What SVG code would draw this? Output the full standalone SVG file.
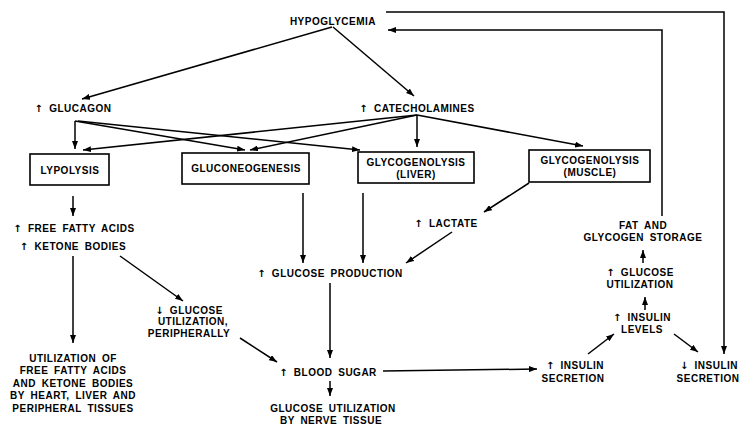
<svg xmlns="http://www.w3.org/2000/svg" width="742" height="426" viewBox="0 0 742 426">
<style>
text{font-family:"Liberation Sans",Arial,sans-serif;font-weight:bold;font-size:10px;letter-spacing:0.5px;word-spacing:2.5px;fill:#000;text-anchor:middle}
.ar{font-family:"DejaVu Sans",sans-serif;font-weight:bold;font-size:10px;fill:#000}
.box{fill:#fff;stroke:#000;stroke-width:1.6}
.c path{fill:none;stroke:#000;stroke-width:1.5}
.a{marker-end:url(#ah)}
</style>
<defs>
<marker id="ah" markerUnits="userSpaceOnUse" markerWidth="8" markerHeight="6" refX="8" refY="3" orient="auto"><path d="M0,0 L8,3 L0,6 z" fill="#000"/></marker>
</defs>
<rect width="742" height="426" fill="#fff"/>
<g class="c" id="connectors">
<path class="a" d="M332,27 L82,99"/>
<path class="a" d="M333,27 L414,96"/>
<path class="a" d="M386,12 H724 V354"/>
<path class="a" d="M662,216 V30 H388"/>
<path class="a" d="M75,121 V149"/>
<path class="a" d="M75,121 L245,150"/>
<path class="a" d="M78,121 L360,150"/>
<path class="a" d="M417,115 L83,150"/>
<path class="a" d="M417,115 L250,150"/>
<path class="a" d="M417,115 V147"/>
<path class="a" d="M417,115 L583,146"/>
<path class="a" d="M73,196 V216"/>
<path class="a" d="M73,256 V343"/>
<path class="a" d="M120,256 L183,301"/>
<path class="a" d="M240,338 L277,362"/>
<path class="a" d="M303,193 V263"/>
<path class="a" d="M363,193 V263"/>
<path class="a" d="M529,183 L484,212"/>
<path class="a" d="M452,232 L406,263"/>
<path class="a" d="M330,283 V358"/>
<path class="a" d="M330,381 V396"/>
<path class="a" d="M383,371 L537,369"/>
<path class="a" d="M588,354 L614,334"/>
<path class="a" d="M674,334 L698,352"/>
<path class="a" d="M645,310 V297"/>
<path class="a" d="M643,263 V250"/>
</g>
<g id="hypoglycemia"><text x="333" y="25">HYPOGLYCEMIA</text></g>
<g id="glucagon"><text x="73" y="112"><tspan class="ar">↑</tspan> GLUCAGON</text></g>
<g id="catecholamines"><text x="417" y="112"><tspan class="ar">↑</tspan> CATECHOLAMINES</text></g>
<g id="lypolysis"><rect class="box" x="30" y="154" width="79" height="31"/><text x="70" y="174">LYPOLYSIS</text></g>
<g id="gluconeogenesis"><rect class="box" x="182" y="153" width="127" height="31"/><text x="246" y="172">GLUCONEOGENESIS</text></g>
<g id="glycogenolysis-liver"><rect class="box" x="358" y="152" width="116" height="31"/><text x="416" y="166">GLYCOGENOLYSIS</text><text x="416" y="178">(LIVER)</text></g>
<g id="glycogenolysis-muscle"><rect class="box" x="529" y="150" width="121" height="32"/><text x="590" y="164">GLYCOGENOLYSIS</text><text x="590" y="176">(MUSCLE)</text></g>
<g id="ffa"><text x="74" y="232"><tspan class="ar">↑</tspan> FREE FATTY ACIDS</text><text x="73" y="250"><tspan class="ar">↑</tspan> KETONE BODIES</text></g>
<g id="utilization-ffa"><text x="73" y="362">UTILIZATION OF</text><text x="73" y="374">FREE FATTY ACIDS</text><text x="73" y="387">AND KETONE BODIES</text><text x="73" y="399">BY HEART, LIVER AND</text><text x="73" y="412">PERIPHERAL TISSUES</text></g>
<g id="glucose-util-periph"><text x="189" y="314"><tspan class="ar">↓</tspan> GLUCOSE</text><text x="193" y="325">UTILIZATION,</text><text x="189" y="337">PERIPHERALLY</text></g>
<g id="glucose-production"><text x="330" y="277"><tspan class="ar">↑</tspan> GLUCOSE PRODUCTION</text></g>
<g id="lactate"><text x="446" y="227"><tspan class="ar">↑</tspan> LACTATE</text></g>
<g id="blood-sugar"><text x="328" y="376"><tspan class="ar">↑</tspan> BLOOD SUGAR</text></g>
<g id="nerve"><text x="333" y="412">GLUCOSE UTILIZATION</text><text x="331" y="424">BY NERVE TISSUE</text></g>
<g id="insulin-secretion-up"><text x="575" y="369"><tspan class="ar">↑</tspan> INSULIN</text><text x="573" y="382">SECRETION</text></g>
<g id="insulin-levels"><text x="642" y="321"><tspan class="ar">↑</tspan> INSULIN</text><text x="642" y="333">LEVELS</text></g>
<g id="glucose-utilization"><text x="640" y="276"><tspan class="ar">↑</tspan> GLUCOSE</text><text x="640" y="288">UTILIZATION</text></g>
<g id="fat-storage"><text x="643" y="229">FAT AND</text><text x="643" y="241">GLYCOGEN STORAGE</text></g>
<g id="insulin-secretion-down"><text x="709" y="369"><tspan class="ar">↓</tspan> INSULIN</text><text x="708" y="382">SECRETION</text></g>
</svg>
